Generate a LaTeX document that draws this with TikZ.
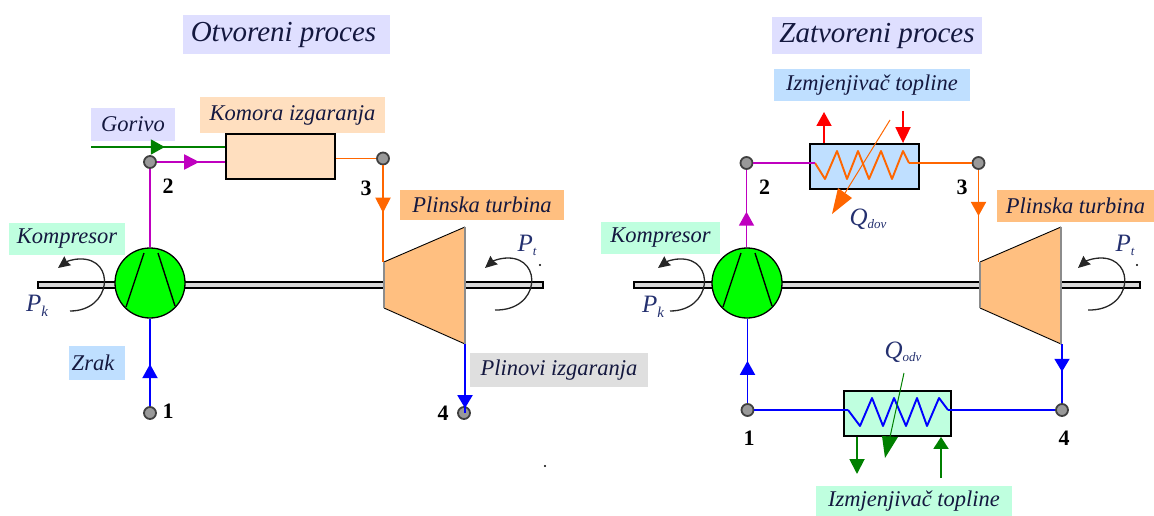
\documentclass[tikz,border=0pt]{standalone}
\usepackage{fontspec}
\setmainfont{Liberation Serif}
\usetikzlibrary{arrows.meta,decorations.markings}
\definecolor{lav}{HTML}{DFDFFF}
\definecolor{peach}{HTML}{FFDFBF}
\definecolor{tan}{HTML}{FFBF80}
\definecolor{mint}{HTML}{BFFFDF}
\definecolor{sky}{HTML}{BFDFFF}
\definecolor{lgrey}{HTML}{DFDFDF}
\definecolor{mag}{HTML}{BF00BF}
\definecolor{ora}{HTML}{FF6600}
\definecolor{grn}{HTML}{008000}
\definecolor{blu}{HTML}{0000FF}
\definecolor{ink}{HTML}{14183F}
\definecolor{symink}{HTML}{24306F}
\tikzset{
  x=1pt,y=-1pt,
  lab/.style={inner sep=0pt,font=\fontsize{22.5}{24}\selectfont\itshape,text=ink},
  ttl/.style={lab,font=\fontsize{29}{30}\selectfont\itshape},
  num/.style={inner sep=0pt,font=\fontsize{22}{24}\selectfont\bfseries,text=black},
  sym/.style={inner sep=0pt,font=\fontsize{25}{26}\selectfont\itshape,text=symink},
  hx/.style={draw=black,line width=1.8pt,inner sep=0pt},
  pt/.style={circle,draw=black!75,fill=black!40,line width=1.8pt,inner sep=0pt,minimum size=12pt},
  flow/.style={line width=1.9pt},
  thin flow/.style={line width=1pt},
  midtip/.style 2 args={postaction={decorate},decoration={markings,
     mark=at position #1 with {\arrow{Triangle[length=#2,width=15pt]}}}},
  turn/.style={line width=1.3pt,draw=black!85,-{Stealth[length=12pt,width=11pt,inset=1pt]}},
  blade/.style={line width=1.4pt,draw=black},
  shaftbar/.style={draw=black,fill=black!15,line width=2.2pt},
}
\newcommand{\drivetrain}[6]{% prefix, comp x, shaft start, shaft end, turbine left, turbine right
  \draw[shaftbar] (#3,282) rectangle (#4,288);
  \node[circle,draw=black,fill=green,line width=1.3pt,inner sep=0pt,minimum size=70pt] (#1comp) at (#2,283) {};
  \draw[blade] (#2-6,253) -- (#2-24,307);
  \draw[blade] (#2+8,253) -- (#2+25,306);
  \coordinate (#1tl) at (#5,262);
  \coordinate (#1tr) at (#6,227);
  \coordinate (#1br) at (#6,344);
  \coordinate (#1bl) at (#5,308);
  \fill[tan] (#1tl) -- (#1tr) -- (#1br) -- (#1bl) -- cycle;
  \draw[black,line width=.9pt] (#1tl) -- (#1tr) (#1bl) -- (#1br);
  \draw[black!45,line width=1.4pt] (#1tl) -- (#1bl) (#1tr) -- (#1br);
}
\begin{document}
\begin{tikzpicture}
\useasboundingbox (0,0) rectangle (1154,516);
% ---------- left: open process
\node[fill=lav,minimum width=207pt,minimum height=39pt,inner sep=0pt] (t1) at (286.5,34.5) {};
\node[ttl] at ([xshift=-3pt]t1.center) {Otvoreni proces};
\node[fill=lav,minimum width=84pt,minimum height=33pt,inner sep=0pt] (gor) at (133,124.5) {};
\node[lab] at (gor) {Gorivo};
\node[fill=peach,minimum width=185pt,minimum height=36pt,inner sep=0pt] (kom) at (292.5,115) {};
\node[lab] at (kom) {Komora izgaranja};
\node[hx,fill=peach,minimum width=109pt,minimum height=45pt] (cc) at (280.5,156.5) {};
\node[fill=tan,minimum width=164pt,minimum height=30pt,inner sep=0pt] (pl1) at (482,205) {};
\node[lab] at (pl1) {Plinska turbina};
\node[fill=mint,minimum width=116pt,minimum height=32pt,inner sep=0pt] (ko1) at (67,238.5) {};
\node[lab] at (ko1) {Kompresor};
\node[fill=sky,minimum width=56pt,minimum height=34pt,inner sep=0pt] (zr) at (97,363) {};
\node[lab] at ([xshift=-4pt]zr.center) {Zrak};
\node[fill=lgrey,minimum width=178pt,minimum height=34pt,inner sep=0pt] (pi) at (559,370) {};
\node[lab] at (pi) {Plinovi izgaranja};

\drivetrain{a}{150}{38}{543}{384}{465}
\node[pt] (a2) at (150,162) {};
\node[pt] (a3) at (383,158.5) {};
\node[pt] (a1) at (150,413) {};
\node[pt] (a4) at (464,413) {};
\coordinate (fuel) at (91,147);
\draw[flow,grn,midtip={0.55}{14pt}] (fuel) -- (cc.west |- fuel);
\draw[flow,mag,midtip={0.62}{15pt}] (a2) -- (cc.west |- a2);
\draw[flow,mag] (a2) -- (acomp.north -| a2);
\draw[flow,ora] (cc.east |- a3) -- (a3);
\draw[flow,ora,midtip={0.49}{15pt}] (a3) -- (a3 |- atl);
\draw[flow,blu,midtip={0.48}{14pt}] (a1) -- (acomp.south -| a1);
\draw[flow,blu,midtip={0.93}{13pt}] (abr) -- (abr |- a4);
\draw[turn] (70,311) .. controls (112,311) and (116,258) .. (80,259) .. controls (72,259) and (66,262) .. (58,268);
\draw[turn] (495,310) .. controls (540,311) and (543,258) .. (508,258) .. controls (500,258) and (493,261) .. (485,268);
\node[sym] at (37,306) {P\raisebox{-5pt}{\fontsize{15}{15}\selectfont k}};
\node[sym] at (527,245) {P\raisebox{-4pt}{\fontsize{13}{13}\selectfont t}};
\node[num] at (168,186) {2};
\node[num] at (366,188) {3};
\node[num] at (168,411) {1};
\node[num] at (443,413) {4};
\fill (540,265) circle (1.2pt);
\fill (545,466) circle (1.2pt);

% ---------- right: closed process
\node[fill=lav,minimum width=210pt,minimum height=37pt,inner sep=0pt] (t2) at (877,35.5) {};
\node[ttl] at (t2) {Zatvoreni proces};
\node[fill=sky,minimum width=195.5pt,minimum height=32pt,inner sep=0pt] (iz1) at (872,85) {};
\node[lab] at (iz1) {Izmjenjivač topline};
\node[hx,fill=sky,minimum width=109pt,minimum height=45pt] (h1) at (864.5,166.5) {};
\node[fill=tan,minimum width=158pt,minimum height=32pt,inner sep=0pt] (pl2) at (1075.5,206) {};
\node[lab] at (pl2) {Plinska turbina};
\node[fill=mint,minimum width=118.5pt,minimum height=32pt,inner sep=0pt] (ko2) at (660.5,238) {};
\node[lab] at (ko2) {Kompresor};
\node[hx,fill=mint,minimum width=107.5pt,minimum height=45pt] (h2) at (897.5,413.5) {};
\node[fill=mint,minimum width=195.5pt,minimum height=30pt,inner sep=0pt] (iz2) at (914,501) {};
\node[lab] at (iz2) {Izmjenjivač topline};

\drivetrain{b}{747}{634}{1140}{980}{1061}
\node[pt] (b2) at (746.5,163) {};
\node[pt] (b3) at (978.5,163) {};
\node[pt] (b1) at (747.5,410) {};
\node[pt] (b4) at (1062,410) {};
% coils
\coordinate (c1) at (815,163);
\coordinate (c2) at (909,163);
\coordinate (d1) at (848,410);
\coordinate (d2) at (948,410);
\draw[flow,ora,line join=round] (c1) -- (825,179) -- (837,151) -- (847,179) -- (858,151) -- (869,179) -- (881,151) -- (892,179) -- (903,151) -- (c2);
\draw[flow,blu,line join=round] (d1) -- (860,426) -- (872,398) -- (883,426) -- (894,398) -- (906,426) -- (917,398) -- (927,426) -- (939,398) -- (d2);
\draw[flow,mag] (b2) -- (c1);
\draw[flow,ora] (c2) -- (b3);
\draw[flow,blu] (b1) -- (d1);
\draw[flow,blu] (d2) -- (b4);
\draw[flow,mag,midtip={0.46}{14pt}] (bcomp.north -| b2) -- (b2);
\draw[flow,ora,midtip={0.5}{14pt}] (b3) -- (b3 |- btl);
\draw[flow,blu,midtip={0.5}{14pt}] (b1) -- (bcomp.south -| b1);
\draw[flow,blu,midtip={0.47}{13pt}] (b4 |- bbr) -- (b4);
% heat arrows
\coordinate (qa) at (890,120);
\coordinate (qb) at (845,193);
\coordinate (qt) at (832,214);
\draw[thin flow,ora] (qa) -- (qb);
\fill[ora] (qt) -- (838,188) -- (852,198) -- cycle;
\coordinate (ra) at (904,373);
\coordinate (rb) at (890,437);
\coordinate (rt) at (885,458);
\draw[thin flow,grn] (ra) -- (rb);
\fill[grn] (rt) -- (882,436) -- (898,437) -- cycle;
% external connections
\coordinate (h1u) at (824,112);
\coordinate (h1d) at (903,111);
\draw[flow,red,-{Triangle[length=14pt,width=15pt]}] (h1.north -| h1u) -- (h1u);
\draw[flow,red,-{Triangle[length=16pt,width=15pt]}] (h1d) -- (h1.north -| h1d);
\coordinate (h2d) at (857,474);
\coordinate (h2u) at (941,478);
\draw[flow,grn,-{Triangle[length=15pt,width=15pt]}] (h2.south -| h2d) -- (h2d);
\draw[flow,grn,-{Triangle[length=12pt,width=15pt]}] (h2u) -- (h2.south -| h2u);
\draw[turn] (670,311) .. controls (712,311) and (716,258) .. (680,259) .. controls (672,259) and (666,262) .. (658,268);
\draw[turn] (1088,310) .. controls (1133,311) and (1136,258) .. (1101,258) .. controls (1093,258) and (1086,261) .. (1078,268);
\node[sym] at (653,307) {P\raisebox{-5pt}{\fontsize{15}{15}\selectfont k}};
\node[sym] at (1125,245) {P\raisebox{-4pt}{\fontsize{13}{13}\selectfont t}};
\node[sym] at (868,219) {Q\raisebox{-3pt}{\fontsize{13}{13}\selectfont dov}};
\node[sym] at (903,352) {Q\raisebox{-3pt}{\fontsize{13}{13}\selectfont odv}};
\node[num] at (764.5,187) {2};
\node[num] at (962,187) {3};
\node[num] at (749,438) {1};
\node[num] at (1064,438) {4};
\fill (1137,265) circle (1.2pt);
\end{tikzpicture}
\end{document}
